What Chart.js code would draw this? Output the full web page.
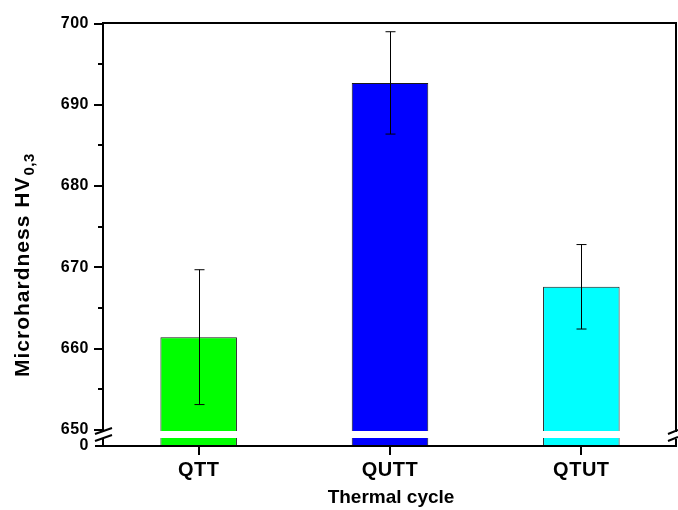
<!DOCTYPE html>
<html>
<head>
<meta charset="utf-8">
<script src="https://cdn.jsdelivr.net/npm/chart.js@4"></script>
<style>
  html, body { margin: 0; padding: 0; background: #fff; }
  #wrap { width: 678px; height: 510px; position: relative; }
</style>
</head>
<body>
<div id="wrap"><canvas id="chart"></canvas></div>
<script>
const categories = ["QTT", "QUTT", "QTUT"];
const hardness = [661.4, 692.7, 667.6];
const hardnessErr = [8.3, 6.3, 5.2];
const barColors = ["#00ff00", "#0000ff", "#00ffff"];
const yMajorTicks = [650, 660, 670, 680, 690, 700];
const yMinorTicks = [655, 665, 675, 685, 695];
const zeroAt = 648; // broken axis: this value is labelled "0"

const FONT = "'Liberation Sans', Arial, sans-serif";

const brokenAxis = {
  id: "brokenAxis",
  beforeDraw(chart) {
    chart.ctx.letterSpacing = "0.5px";
  },
  afterDatasetsDraw(chart) {
    const { ctx, chartArea: a, scales } = chart;
    const y = scales.y, x = scales.x;
    ctx.save();
    ctx.letterSpacing = "0px";
    // error bars
    ctx.strokeStyle = "#000";
    ctx.lineWidth = 1;
    hardness.forEach((v, i) => {
      const cx = Math.round(x.getPixelForValue(i)) + 0.5;
      const top = y.getPixelForValue(v + hardnessErr[i]);
      const bot = y.getPixelForValue(v - hardnessErr[i]);
      ctx.beginPath();
      ctx.moveTo(cx, top); ctx.lineTo(cx, bot);
      ctx.moveTo(cx - 5, top); ctx.lineTo(cx + 5, top);
      ctx.moveTo(cx - 5, bot); ctx.lineTo(cx + 5, bot);
      ctx.stroke();
    });
    // white gap of the axis break
    ctx.fillStyle = "#fff";
    ctx.fillRect(a.left, 431, a.right - a.left, 7);
    ctx.restore();
  },
  afterDraw(chart) {
    const { ctx, scales } = chart;
    const y = scales.y, x = scales.x;
    const L = 103, R = 676, T = 23, B = 446;
    ctx.save();
    ctx.letterSpacing = "0px";
    ctx.strokeStyle = "#000";
    ctx.lineWidth = 2;
    ctx.beginPath();
    // frame
    ctx.moveTo(L, T); ctx.lineTo(L, 432);
    ctx.moveTo(L, 439); ctx.lineTo(L, B + 1);
    ctx.moveTo(R, T); ctx.lineTo(R, 432);
    ctx.moveTo(R, 439); ctx.lineTo(R, B + 1);
    ctx.moveTo(95, B); ctx.lineTo(R + 1, B);
    ctx.moveTo(L - 1, T); ctx.lineTo(R + 1, T);
    // major y ticks
    yMajorTicks.forEach((v) => {
      const py = Math.round(y.getPixelForValue(v));
      ctx.moveTo(94, py); ctx.lineTo(L, py);
    });
    // minor y ticks
    yMinorTicks.forEach((v) => {
      const py = Math.round(y.getPixelForValue(v));
      ctx.moveTo(98, py); ctx.lineTo(L, py);
    });
    // x ticks
    categories.forEach((c, i) => {
      const px = Math.round(x.getPixelForValue(i));
      ctx.moveTo(px, B); ctx.lineTo(px, B + 9);
    });
    // break slashes
    ctx.moveTo(95, 434); ctx.lineTo(112, 428);
    ctx.moveTo(95, 441); ctx.lineTo(112, 435);
    ctx.moveTo(668, 434); ctx.lineTo(678, 430);
    ctx.moveTo(668, 441); ctx.lineTo(678, 437);
    ctx.stroke();

    // axis titles
    ctx.fillStyle = "#000";
    ctx.textBaseline = "alphabetic";
    ctx.font = `bold 19px ${FONT}`;
    ctx.textAlign = "center";
    ctx.fillText("Thermal cycle", 391, 503);

    ctx.translate(29, 377);
    ctx.rotate(-Math.PI / 2);
    ctx.textAlign = "left";
    ctx.letterSpacing = "1px";
    ctx.font = `bold 21px ${FONT}`;
    const main = "Microhardness HV";
    ctx.fillText(main, 0, 0);
    const w = ctx.measureText(main).width;
    ctx.letterSpacing = "0.5px";
    ctx.font = `bold 15px ${FONT}`;
    ctx.fillText("0,3", w + 1, 5);
    ctx.restore();
  },
};

new Chart(document.getElementById("chart"), {
  type: "bar",
  data: {
    labels: categories,
    datasets: [
      {
        data: hardness,
        backgroundColor: barColors,
        borderColor: "#1a1a1a",
        borderWidth: 1,
        barPercentage: 0.4,
        categoryPercentage: 1,
      },
    ],
  },
  options: {
    responsive: true,
    maintainAspectRatio: false,
    animation: false,
    layout: { padding: { top: 23, right: 1, left: 0, bottom: 0 } },
    plugins: { legend: { display: false }, tooltip: { enabled: false } },
    scales: {
      x: {
        grid: { display: false, drawTicks: false },
        border: { display: false },
        ticks: { color: "#000", font: { family: FONT, size: 20, weight: "bold" }, padding: 12 },
        afterFit: (s) => { s.height = 64; },
      },
      y: {
        min: zeroAt,
        max: 700,
        grid: { display: false, drawTicks: false },
        border: { display: false },
        afterBuildTicks: (s) => {
          s.ticks = [zeroAt, ...yMajorTicks].map((v) => ({ value: v }));
        },
        ticks: {
          color: "#000",
          font: { family: FONT, size: 16, weight: "bold" },
          padding: 14,
          callback: (v) => (v === zeroAt ? "0" : String(v)),
        },
        afterFit: (s) => { s.width = 103; },
      },
    },
  },
  plugins: [brokenAxis],
});
</script>
</body>
</html>
